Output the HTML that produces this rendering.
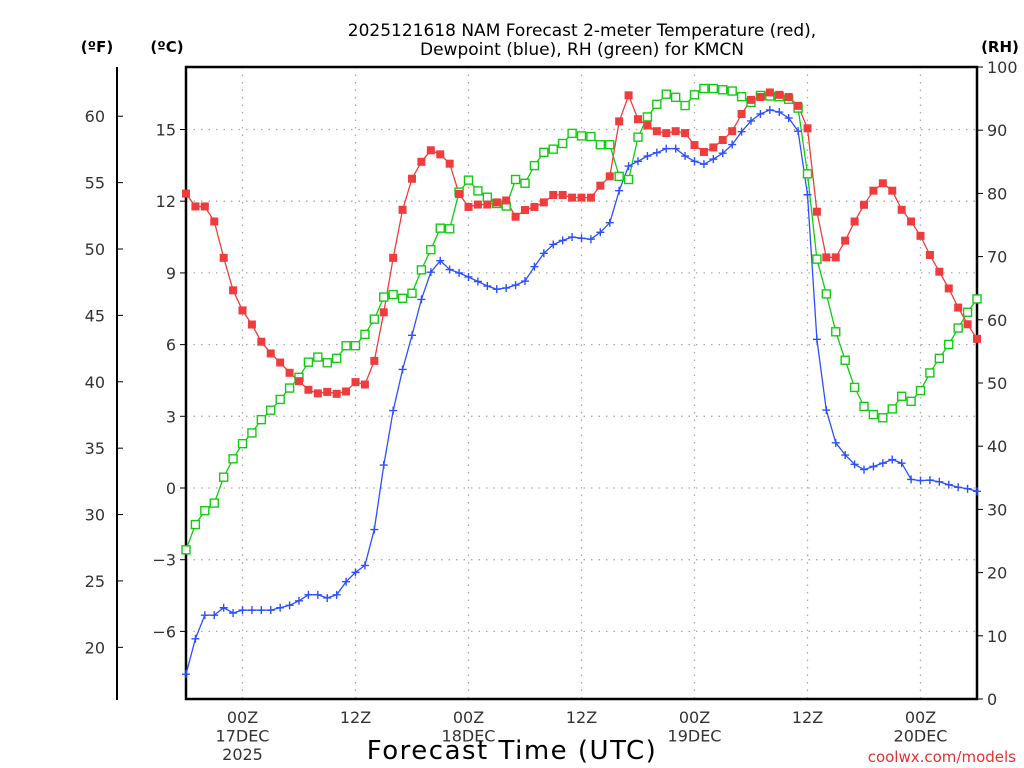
<!DOCTYPE html>
<html><head><meta charset="utf-8">
<style>
html,body{margin:0;padding:0;background:#fff;}
svg{display:block;font-family:"DejaVu Sans","Liberation Sans",sans-serif;}
</style></head>
<body>
<svg id="chart" width="1024" height="768" viewBox="0 0 1024 768" xmlns="http://www.w3.org/2000/svg">
<g id="grid"></g>
<g id="axes"></g>
<g id="series"></g>
<text x="582" y="36" font-size="17" text-anchor="middle">2025121618 NAM Forecast 2-meter Temperature (red),</text>
<text x="582" y="55" font-size="17" text-anchor="middle">Dewpoint (blue), RH (green) for KMCN</text>
<text x="97" y="52" font-size="15" font-weight="bold" text-anchor="middle">(ºF)</text>
<text x="167" y="52" font-size="15" font-weight="bold" text-anchor="middle">(ºC)</text>
<text x="1000" y="52" font-size="15" font-weight="bold" text-anchor="middle">(RH)</text>
<text x="512" y="759" font-size="26" text-anchor="middle" letter-spacing="1.5">Forecast Time (UTC)</text>
<text x="1016" y="762" font-size="15" fill="#e83030" text-anchor="end">coolwx.com/models</text>
</svg>
<script>
const hours = [];
for (let h = 0; h <= 84; h++) hours.push(h);
const tempC = [12.32,11.78,11.78,11.15,9.63,8.27,7.43,6.84,6.12,5.63,5.25,4.82,4.47,4.11,3.96,4.02,3.94,4.04,4.43,4.33,5.32,7.35,
9.63,11.64,12.94,13.65,14.13,13.96,13.57,12.3,11.76,11.86,11.86,11.95,12.03,11.35,11.63,11.76,11.95,12.26,12.26,12.15,12.15,12.15,
12.65,13.04,15.34,16.43,15.43,15.17,14.93,14.85,14.93,14.85,14.35,14.06,14.25,14.56,14.93,15.65,16.24,16.36,16.55,16.45,16.36,
15.99,15.05,11.56,9.65,9.65,10.35,11.15,11.85,12.44,12.75,12.44,11.64,11.15,10.55,9.75,9.05,8.35,7.55,6.85,6.24];
const dewC = [-7.79,-6.31,-5.32,-5.32,-5.01,-5.23,-5.11,-5.11,-5.11,-5.11,-5.01,-4.91,-4.72,-4.47,-4.47,-4.6,-4.47,-3.92,-3.53,-3.24,-1.74,0.96,
3.24,4.96,6.39,7.89,9.03,9.51,9.14,9.0,8.83,8.64,8.45,8.32,8.37,8.49,8.66,9.26,9.82,10.19,10.36,10.5,10.45,10.41,
10.7,11.1,12.44,13.47,13.67,13.89,14.03,14.2,14.2,13.89,13.67,13.55,13.76,14.01,14.37,14.91,15.36,15.65,15.82,15.73,15.48,
14.93,12.27,6.22,3.26,1.89,1.38,0.99,0.77,0.9,1.04,1.19,1.04,0.36,0.31,0.33,0.26,0.14,0.03,-0.03,-0.14];
const rh = [23.6,27.6,29.8,31.0,35.1,38.0,40.4,42.1,44.2,45.7,47.4,49.2,50.9,53.3,54.1,53.2,53.9,55.9,55.9,57.7,60.1,63.6,
64.0,63.4,64.2,67.9,71.1,74.5,74.4,80.2,82.1,80.4,79.4,78.4,78.0,82.2,81.6,84.4,86.5,87.0,87.9,89.5,89.1,89.0,
87.7,87.7,82.7,82.2,88.9,92.1,94.1,95.7,95.2,93.9,95.6,96.6,96.6,96.4,96.2,95.3,94.4,95.5,95.4,95.3,94.9,
93.5,83.1,69.6,64.1,58.1,53.6,49.3,46.3,45.0,44.5,45.9,47.9,47.1,48.8,51.6,53.9,56.1,58.7,61.2,63.3];
const celsiusTicks = [-6,-3,0,3,6,9,12,15];
const fahrenheitTicks = [20,25,30,35,40,45,50,55,60];
const rhTicks = [0,10,20,30,40,50,60,70,80,90,100];
const timeTickHours = [6,18,30,42,54,66,78];
const timeTickLabels = [["00Z","17DEC","2025"],["12Z"],["00Z","18DEC"],["12Z"],["00Z","19DEC"],["12Z"],["00Z","20DEC"]];

const L=186,R=977,T=67,B=699;
const xS=h=>L+(h/84)*(R-L);
const yC=c=>488-c*23.9;
const yF=f=>yC((f-32)/1.8);
const yR=r=>B-(r/100)*(B-T);
const NS="http://www.w3.org/2000/svg";
function mk(tag,attrs,parent){const e=document.createElementNS(NS,tag);for(const k in attrs)e.setAttribute(k,attrs[k]);parent.appendChild(e);return e;}
const grid=document.getElementById('grid'),axes=document.getElementById('axes'),series=document.getElementById('series');

celsiusTicks.forEach(c=>{
  const y=yC(c);
  const g=mk('line',{x1:L,x2:R,y1:y,y2:y,stroke:'#aaa','stroke-width':1.3,'stroke-dasharray':'1.5,6'},grid);
  
  
  const t=mk('line',{x1:L-6,x2:L,y1:y,y2:y,stroke:'#000','stroke-width':1},axes);
  
  
  const tx=mk('text',{x:L-10,y:y+6,'font-size':16,'text-anchor':'end',fill:'#333'},axes);
  tx.textContent=(c<0?'\u2212'+(-c):String(c));
  
  
});
timeTickHours.forEach((h,i)=>{
  const x=xS(h);
  const g=mk('line',{x1:x,x2:x,y1:T,y2:B,stroke:'#aaa','stroke-width':1.3,'stroke-dasharray':'1.5,6'},grid);
  
  
  timeTickLabels[i].forEach((s,j)=>{
    const tx=mk('text',{x:x,y:723+j*18.5,'font-size':16,'text-anchor':'middle',fill:'#333'},axes);
    tx.textContent=s;
    
    
  });
});
fahrenheitTicks.forEach(f=>{
  const y=yF(f);
  const t=mk('line',{x1:117,x2:123,y1:y,y2:y,stroke:'#000','stroke-width':1},axes);
  
  
  const tx=mk('text',{x:105,y:y+6,'font-size':16,'text-anchor':'end',fill:'#333'},axes);
  tx.textContent=String(f);
  
  
});
rhTicks.forEach(r=>{
  const y=yR(r);
  const t=mk('line',{x1:R,x2:R+6,y1:y,y2:y,stroke:'#000','stroke-width':1},axes);
  
  
  const tx=mk('text',{x:987,y:y+6,'font-size':16,'text-anchor':'start',fill:'#333'},axes);
  tx.textContent=String(r);
  
  
});
const fAx=mk('line',{x1:117,x2:117,y1:67,y2:700,stroke:'#000','stroke-width':2},axes);


const frame=mk('rect',{x:L,y:T,width:R-L,height:B-T,fill:'none',stroke:'#000','stroke-width':2.5},axes);



function drawLine(vals,yf,color,name){
  const pts=vals.map((v,i)=>xS(hours[i]).toFixed(1)+','+yf(v).toFixed(1)).join(' ');
  const p=mk('polyline',{points:pts,fill:'none',stroke:color,'stroke-width':1.3},series);
  
  
}
drawLine(rh,yR,'#11cc11','rh-line');
drawLine(tempC,yC,'#f03c3c','temperature-line');
drawLine(dewC,yC,'#2d50ff','dewpoint-line');
rh.forEach((v,i)=>{
  const m=mk('rect',{x:xS(hours[i])-4,y:yR(v)-4,width:8,height:8,fill:'#fff',stroke:'#11cc11','stroke-width':1.4},series);
  
  
});
tempC.forEach((v,i)=>{
  const m=mk('rect',{x:xS(hours[i])-4,y:yC(v)-4,width:8,height:8,fill:'#f03c3c'},series);
  
  
});
dewC.forEach((v,i)=>{
  const x=xS(hours[i]),y=yC(v);
  const m=mk('path',{d:`M${x-4},${y}H${x+4}M${x},${y-4}V${y+4}`,stroke:'#2d50ff','stroke-width':1.4,fill:'none'},series);
  
  
});
</script>
</body></html>
